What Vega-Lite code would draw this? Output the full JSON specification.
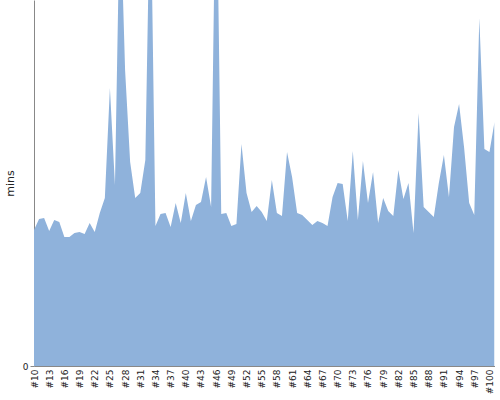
{
  "$schema": "https://vega.github.io/schema/vega-lite/v6.json",
  "width": 460.5,
  "height": 366,
  "autosize": "none",
  "padding": {"left": 34, "top": 0, "right": 5, "bottom": 34},
  "background": "white",
  "config": {
    "view": {"stroke": null},
    "font": "DejaVu Sans",
    "axis": {"labelFont": "DejaVu Sans", "titleFont": "DejaVu Sans", "grid": false, "domainColor": "#888888", "tickColor": "#888888", "labelColor": "#222222", "titleColor": "#222222"}
  },
  "data": {
    "values": [
      {"run": "#10", "mins": 136}, {"run": "#11", "mins": 147}, {"run": "#12", "mins": 148}, {"run": "#13", "mins": 135},
      {"run": "#14", "mins": 146}, {"run": "#15", "mins": 144}, {"run": "#16", "mins": 129}, {"run": "#17", "mins": 129},
      {"run": "#18", "mins": 133}, {"run": "#19", "mins": 134}, {"run": "#20", "mins": 132}, {"run": "#21", "mins": 143},
      {"run": "#22", "mins": 134}, {"run": "#23", "mins": 153}, {"run": "#24", "mins": 168}, {"run": "#25", "mins": 278},
      {"run": "#26", "mins": 181}, {"run": "#27", "mins": 470}, {"run": "#28", "mins": 296}, {"run": "#29", "mins": 204},
      {"run": "#30", "mins": 168}, {"run": "#31", "mins": 173}, {"run": "#32", "mins": 206}, {"run": "#33", "mins": 496},
      {"run": "#34", "mins": 140}, {"run": "#35", "mins": 152}, {"run": "#36", "mins": 153}, {"run": "#37", "mins": 139},
      {"run": "#38", "mins": 163}, {"run": "#39", "mins": 143}, {"run": "#40", "mins": 173}, {"run": "#41", "mins": 145},
      {"run": "#42", "mins": 161}, {"run": "#43", "mins": 164}, {"run": "#44", "mins": 189}, {"run": "#45", "mins": 159},
      {"run": "#46", "mins": 531}, {"run": "#47", "mins": 152}, {"run": "#48", "mins": 153}, {"run": "#49", "mins": 140},
      {"run": "#50", "mins": 142}, {"run": "#51", "mins": 222}, {"run": "#52", "mins": 173}, {"run": "#53", "mins": 154},
      {"run": "#54", "mins": 160}, {"run": "#55", "mins": 154}, {"run": "#56", "mins": 145}, {"run": "#57", "mins": 186},
      {"run": "#58", "mins": 153}, {"run": "#59", "mins": 150}, {"run": "#60", "mins": 214}, {"run": "#61", "mins": 189},
      {"run": "#62", "mins": 153}, {"run": "#63", "mins": 151}, {"run": "#64", "mins": 146}, {"run": "#65", "mins": 141},
      {"run": "#66", "mins": 145}, {"run": "#67", "mins": 143}, {"run": "#68", "mins": 140}, {"run": "#69", "mins": 169},
      {"run": "#70", "mins": 183}, {"run": "#71", "mins": 182}, {"run": "#72", "mins": 145}, {"run": "#73", "mins": 215},
      {"run": "#74", "mins": 146}, {"run": "#75", "mins": 205}, {"run": "#76", "mins": 163}, {"run": "#77", "mins": 194},
      {"run": "#78", "mins": 143}, {"run": "#79", "mins": 168}, {"run": "#80", "mins": 155}, {"run": "#81", "mins": 150},
      {"run": "#82", "mins": 196}, {"run": "#83", "mins": 167}, {"run": "#84", "mins": 183}, {"run": "#85", "mins": 133},
      {"run": "#86", "mins": 253}, {"run": "#87", "mins": 159}, {"run": "#88", "mins": 154}, {"run": "#89", "mins": 149},
      {"run": "#90", "mins": 183}, {"run": "#91", "mins": 211}, {"run": "#92", "mins": 169}, {"run": "#93", "mins": 239},
      {"run": "#94", "mins": 262}, {"run": "#95", "mins": 218}, {"run": "#96", "mins": 163}, {"run": "#97", "mins": 151},
      {"run": "#98", "mins": 348}, {"run": "#99", "mins": 217}, {"run": "#100", "mins": 214}, {"run": "#101", "mins": 244}
    ]
  },
  "mark": {"type": "area", "color": "#8fb2db", "opacity": 1, "clip": true},
  "encoding": {
    "x": {
      "field": "run",
      "type": "ordinal",
      "sort": null,
      "scale": {"type": "point", "padding": 0},
      "axis": {
        "title": null,
        "values": ["#10", "#13", "#16", "#19", "#22", "#25", "#28", "#31", "#34", "#37", "#40", "#43", "#46", "#49", "#52", "#55", "#58", "#61", "#64", "#67", "#70", "#73", "#76", "#79", "#82", "#85", "#88", "#91", "#94", "#97", "#100"],
        "labelAngle": -90,
        "labelFontSize": 9,
        "labelPadding": 3,
        "ticks": false,
        "domainColor": "#888888"
      }
    },
    "y": {
      "field": "mins",
      "type": "quantitative",
      "scale": {"domain": [0, 366], "nice": false},
      "axis": {
        "title": "mins",
        "values": [0],
        "labelFontSize": 9,
        "tickSize": 4,
        "labelPadding": 2,
        "titleFontSize": 11,
        "titleFontWeight": "normal",
        "titleX": -24,
        "titleY": 183,
        "titleAngle": -90,
        "titleAlign": "center",
        "titleBaseline": "middle"
      }
    }
  }
}
